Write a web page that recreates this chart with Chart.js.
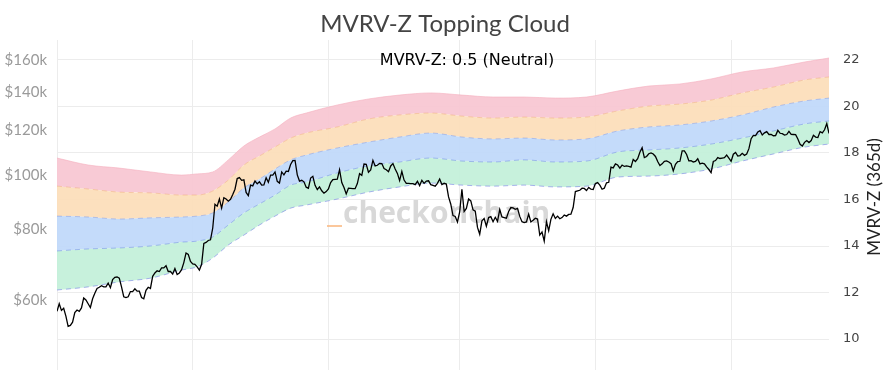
<!DOCTYPE html>
<html>
<head>
<meta charset="utf-8">
<script src="https://cdn.jsdelivr.net/npm/chart.js@4.4.1/dist/chart.umd.min.js"></script>
<style>
  html, body { margin: 0; padding: 0; background: #fff; }
</style>
</head>
<body>
<canvas id="chart" width="890" height="373"></canvas>
<script>
const chartTitle = 'MVRV-Z Topping Cloud';
const statusText = 'MVRV-Z: 0.5 (Neutral)';
const rightAxisTitle = 'MVRV-Z (365d)';

const priceTicks = [60, 80, 100, 120, 140, 160];   // $k, log axis
const mvrvTicks = [10, 12, 14, 16, 18, 20, 22];
const monthGridDays = [0, 61, 122, 181, 242, 303]; // Sep, Nov, Jan, Mar, May, Jul

// BTC daily price in $k, day 0 = 1 Sep 2024
const priceSep24 = [57.3, 59.1, 57.5, 58.0, 56.2, 53.9, 54.1, 54.8, 57.0, 57.6, 57.3, 58.1, 60.5, 60.0, 59.1, 58.2, 60.3, 61.7, 62.9, 63.2, 63.6, 63.3, 63.3, 64.3, 63.1, 65.2, 65.8, 65.9, 65.6, 63.3];
const priceOct24 = [60.8, 60.6, 60.8, 62.1, 62.1, 62.8, 62.2, 62.2, 60.6, 60.3, 62.4, 63.2, 62.9, 66.1, 67.0, 67.6, 67.4, 68.4, 68.4, 69.0, 67.4, 67.4, 66.7, 68.2, 66.6, 67.0, 67.9, 69.9, 72.7, 72.3, 70.2];
const priceNov24 = [69.5, 69.4, 68.7, 67.8, 69.4, 75.6, 75.9, 76.5, 76.7, 80.5, 88.7, 88.0, 90.6, 87.3, 91.1, 90.6, 89.8, 90.5, 92.3, 94.3, 98.5, 98.9, 97.8, 98.0, 93.1, 91.9, 95.9, 95.6, 97.5, 96.4];
const priceDec24 = [97.2, 95.9, 96.0, 98.8, 97.0, 99.9, 99.9, 101.2, 97.4, 96.7, 101.2, 100.0, 101.5, 101.4, 104.3, 106.0, 106.1, 100.0, 97.5, 97.8, 97.2, 95.1, 94.7, 98.7, 99.4, 95.8, 94.2, 95.2, 93.7, 92.8, 93.4];
const priceJan25 = [94.4, 96.9, 98.1, 98.2, 98.3, 102.1, 96.9, 95.0, 92.5, 94.7, 94.6, 94.5, 94.5, 96.5, 100.5, 99.8, 104.5, 104.4, 101.1, 102.0, 106.1, 103.7, 104.0, 104.8, 104.7, 102.6, 102.1, 101.3, 103.7, 104.7, 102.4];
const priceFeb25 = [100.6, 97.7, 101.4, 97.9, 96.6, 96.6, 96.5, 96.5, 96.1, 97.4, 95.7, 97.8, 96.6, 97.5, 97.6, 96.1, 95.8, 95.5, 96.6, 98.3, 96.1, 96.6, 96.3, 91.4, 88.7, 84.7, 84.4, 82.5];
const priceMar25 = [86.0, 94.3, 86.1, 87.2, 90.6, 89.9, 86.7, 86.2, 80.7, 78.5, 82.9, 83.7, 81.1, 84.0, 84.3, 82.6, 84.1, 82.7, 86.8, 84.2, 84.0, 83.8, 86.1, 87.5, 87.4, 86.9, 87.2, 84.4, 82.6, 82.3, 82.5];
const priceApr25 = [85.2, 82.5, 83.1, 83.8, 83.5, 78.2, 79.2, 76.3, 82.6, 79.6, 83.4, 85.3, 83.7, 84.5, 83.6, 84.0, 84.9, 84.5, 85.1, 85.2, 87.5, 93.4, 93.7, 93.9, 94.7, 94.6, 93.8, 95.0, 94.3, 94.2];
const priceMay25 = [96.5, 96.9, 95.9, 94.3, 94.7, 96.8, 97.0, 103.2, 102.9, 104.6, 104.1, 102.8, 104.1, 103.5, 103.7, 103.5, 103.2, 106.5, 105.6, 106.8, 109.7, 111.7, 107.3, 107.8, 109.0, 109.4, 108.9, 107.8, 105.6, 103.9, 104.6];
const priceJun25 = [105.7, 105.9, 105.4, 104.7, 101.6, 104.4, 105.6, 105.7, 110.3, 110.3, 108.7, 105.9, 106.0, 105.4, 105.6, 106.8, 104.6, 104.9, 104.6, 103.3, 102.2, 100.9, 105.6, 106.0, 107.3, 106.9, 107.1, 107.3, 108.4, 107.1];
const priceJul25 = [105.7, 108.8, 109.6, 108.0, 108.2, 109.2, 108.3, 108.9, 111.3, 115.9, 117.5, 117.4, 119.1, 119.8, 117.7, 118.7, 119.3, 117.9, 117.9, 117.3, 117.4, 119.9, 118.5, 118.3, 117.6, 117.9, 119.4, 118.0, 117.9, 117.8, 115.8];
const priceAug25 = [113.3, 112.5, 114.2, 115.0, 114.1, 115.0, 117.5, 116.7, 116.5, 119.3, 118.7, 120.2, 123.3, 118.4];

const prices = [].concat(priceSep24, priceOct24, priceNov24, priceDec24, priceJan25, priceFeb25,
    priceMar25, priceApr25, priceMay25, priceJun25, priceJul25, priceAug25);

// topping cloud boundaries ($k), sampled on these days
const bandDays = [0, 14, 28, 42, 56, 63, 70, 77, 84, 91, 98, 105, 112, 126, 140, 154, 168, 182, 196, 210, 224, 238, 252, 266, 280, 294, 308, 322, 336, 347];
const cloudTop = [107.1, 104.1, 102.8, 101.2, 99.9, 100.4, 101.2, 106.3, 112.5, 116.7, 120.6, 126.1, 128.7, 133.0, 136.3, 138.5, 139.7, 138.5, 137.4, 137.4, 136.8, 137.4, 140.8, 143.7, 144.9, 147.9, 152.2, 154.7, 158.5, 161.1];
const cloudPink = [95.5, 94.4, 93.2, 92.9, 92.1, 92.1, 93.6, 97.9, 104.1, 108.0, 112.0, 116.2, 118.6, 121.6, 125.6, 127.7, 128.7, 127.1, 126.1, 126.6, 126.1, 126.6, 129.8, 132.4, 133.5, 135.7, 139.7, 143.1, 147.3, 149.1];
const cloudOrange = [84.5, 84.2, 83.5, 83.9, 84.2, 84.5, 85.6, 89.5, 94.8, 98.3, 102.4, 106.3, 108.4, 111.6, 114.3, 116.7, 118.6, 116.7, 115.8, 116.2, 115.3, 115.8, 119.6, 121.6, 122.6, 124.6, 127.7, 131.9, 135.2, 136.8];
const cloudBlue = [73.3, 73.9, 74.2, 74.8, 76.0, 76.3, 77.6, 81.5, 85.6, 88.8, 92.1, 95.9, 97.1, 100.8, 103.7, 105.4, 107.1, 105.8, 105.4, 106.3, 105.4, 105.8, 109.8, 110.7, 111.6, 113.4, 116.2, 119.6, 123.1, 124.6];
const cloudGreen = [62.5, 63.3, 64.6, 65.6, 67.8, 68.7, 71.2, 75.1, 78.2, 81.5, 84.5, 87.3, 88.4, 90.6, 93.2, 95.2, 96.7, 95.9, 95.5, 95.9, 95.2, 95.5, 99.1, 99.5, 100.4, 102.4, 105.8, 108.9, 112.0, 113.4];

const toPoints = (days, vals) => vals.map((v, i) => ({ x: days[i], y: v }));

function band(label, values, lineColor, fillColor, dash) {
    return {
        label: label,
        data: toPoints(bandDays, values),
        yAxisID: 'y',
        borderColor: lineColor,
        borderWidth: 1,
        borderDash: dash,
        backgroundColor: fillColor,
        fill: fillColor ? '-1' : false,
        pointRadius: 0,
        cubicInterpolationMode: 'monotone'
    };
}

// keep the y axes from eating into the plot height
const fixWidth = w => axis => {
    axis.width = w;
    axis.paddingTop = 0;
    axis.paddingBottom = 0;
};

const decorations = {
    id: 'decorations',
    beforeDatasetsDraw(chart) {
        const ctx = chart.ctx;
        ctx.save();
        ctx.font = 'bold 30px "Open Sans"';
        ctx.fillStyle = 'rgba(190,190,190,0.6)';
        ctx.textBaseline = 'alphabetic';
        ctx.fillText('checkonchain', 343, 223);
        ctx.fillStyle = 'rgba(250,185,130,0.8)';
        ctx.fillRect(327, 225, 15, 2);
        ctx.restore();
    },
    afterDraw(chart) {
        const ctx = chart.ctx;
        ctx.save();
        ctx.textAlign = 'center';
        ctx.textBaseline = 'alphabetic';
        ctx.fillStyle = '#444';
        ctx.font = '24px Lato';
        ctx.fillText(chartTitle, 445, 32);

        ctx.fillStyle = '#000';
        ctx.font = '16px "DejaVu Sans"';
        ctx.fillText(statusText, 467, 65);

        ctx.translate(875, 197);
        ctx.rotate(-Math.PI / 2);
        ctx.textBaseline = 'middle';
        ctx.fillStyle = '#222';
        ctx.font = '17px Lato';
        ctx.fillText(rightAxisTitle, 0, 0);
        ctx.restore();
    }
};

new Chart(document.getElementById('chart'), {
    type: 'line',
    data: {
        datasets: [
            {
                label: 'Price',
                data: toPoints(prices.map((_, i) => i), prices),
                yAxisID: 'y',
                borderColor: '#000',
                borderWidth: 1.3,
                pointRadius: 0,
                fill: false,
                tension: 0
            },
            band('Cloud base', cloudGreen, 'rgba(120,130,230,0.6)', null, [5, 4]),
            band('Green', cloudBlue, 'rgba(110,140,230,0.55)', 'rgba(196,240,218,0.95)', [5, 4]),
            band('Blue', cloudOrange, 'rgba(130,150,220,0.5)', 'rgba(193,217,250,0.95)', [5, 4]),
            band('Orange', cloudPink, 'rgba(240,170,120,0.5)', 'rgba(252,222,186,0.95)', [5, 4]),
            band('Pink', cloudTop, 'rgba(245,175,190,0.6)', 'rgba(248,199,211,0.95)', [])
        ]
    },
    options: {
        responsive: false,
        animation: false,
        layout: { padding: { top: 40, bottom: 3, left: 0, right: 0 } },
        plugins: {
            legend: { display: false },
            tooltip: { enabled: false },
            title: { display: false }
        },
        scales: {
            x: {
                type: 'linear',
                min: 0,
                max: prices.length - 1,
                border: { display: false },
                grid: { color: '#ececec', drawTicks: false },
                ticks: { display: false },
                afterBuildTicks: axis => { axis.ticks = monthGridDays.map(v => ({ value: v })); },
                afterFit: axis => { axis.height = 0; }
            },
            y: {
                type: 'logarithmic',
                position: 'left',
                min: 45.09,
                max: 173.4,
                border: { display: false },
                grid: { display: false, drawTicks: false },
                ticks: {
                    color: '#9a9a9a',
                    font: { family: 'Lato', size: 15 },
                    padding: 10,
                    callback: v => '$' + v + 'k'
                },
                afterBuildTicks: axis => { axis.ticks = priceTicks.map(v => ({ value: v })); },
                afterFit: fixWidth(57)
            },
            y2: {
                type: 'linear',
                position: 'right',
                min: 8.667,
                max: 22.86,
                border: { display: false },
                grid: { color: '#ececec', drawTicks: false },
                ticks: {
                    color: '#444',
                    font: { family: 'DejaVu Sans', size: 13 },
                    padding: 14
                },
                afterBuildTicks: axis => { axis.ticks = mvrvTicks.map(v => ({ value: v })); },
                afterFit: fixWidth(61)
            }
        }
    },
    plugins: [decorations]
});
</script>
</body>
</html>
